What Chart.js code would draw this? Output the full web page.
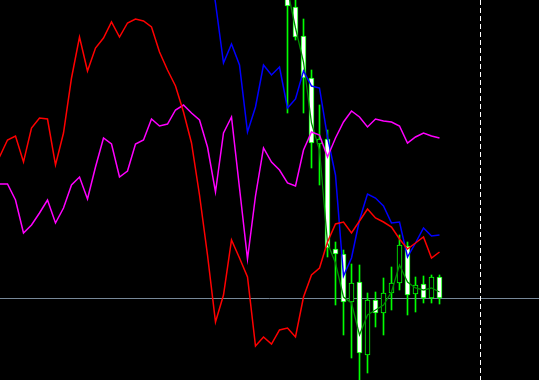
<!DOCTYPE html>
<html lang="en">
<head>
    <meta charset="UTF-8">
    <title>Price chart with indicators</title>
    <script src="https://cdn.jsdelivr.net/npm/chart.js"></script>
    <style>
        html, body {
            margin: 0;
            padding: 0;
            background: #000;
        }

        .chart-box {
            width: 539px;
            height: 380px;
            position: relative;
        }
    </style>
</head>
<body>
    <div class="chart-box">
        <canvas id="priceChart"></canvas>
    </div>

    <script>
        // Indicator lines, one value per bar (bar 0 = left edge)
        const redLine = [223, 240, 244, 218, 252, 262, 261, 215, 247, 302, 343, 309, 332, 342, 358, 343,
            357, 361, 359, 353, 328, 310, 294, 268, 237, 185, 125, 58, 85, 140, 122, 103,
            34, 43, 36, 50, 52, 43, 83, 105, 112, 138, 156, 158, 147, 159, 171, 162,
            158, 153, 141, 131, 137, 143, 122, 128];

        const magentaLine = [196, 196, 180, 147, 155, 167, 180, 157, 172, 195, 203, 181, 213, 242, 236, 203,
            209, 236, 240, 261, 254, 256, 270, 275, 267, 260, 233, 188, 247, 263, 192, 121,
            184, 232, 218, 210, 197, 194, 230, 248, 245, 223, 242, 258, 269, 263, 253, 261,
            259, 258, 254, 237, 243, 247, 244, 242];

        // blue line starts at bar 26 (older values are off the top)
        const blueStart = 26;
        const blueLine = [430, 377, 317, 336, 315, 248, 273, 315, 305, 313, 272, 281, 309, 294, 292,
            243, 205, 104, 122, 160, 186, 182, 174, 157, 158, 123, 137, 152, 144, 145];

        // dark green average of the candles
        const maStart = 35;
        const maLine = [420, 390, 352, 318, 257, 230, 137, 117, 83, 77, 45, 65, 70, 75, 88, 115,
            98, 92, 90, 92, 88];

        // candles, from bar 36
        const candleStart = 36;
        const opens  = [390, 373, 344, 302, 236, 241, 131, 126, 78, 98, 25, 80, 67, 87, 97, 134, 86, 96, 82, 103];
        const highs  = [400, 382, 361, 310, 275, 250, 138, 130, 116, 115, 87, 88, 102, 113, 145, 138, 103, 104, 105, 105];
        const lows   = [267, 340, 267, 212, 195, 123, 75, 45, 22, -2, 7, 53, 45, 70, 90, 65, 68, 77, 77, 76];
        const closes = [374, 343, 302, 237, 241, 132, 126, 78, 97, 27, 80, 67, 87, 97, 135, 85, 95, 82, 103, 82];

        const shiftIndex = 60.125;   // chart shift separator
        const bidLevel = closes[closes.length - 1];

        const toPoints = (arr, start) => arr.map((v, i) => ({ x: start + i, y: v }));

        const wickData = lows.map((l, i) => ({ x: candleStart + i, y: [l, highs[i]] }));
        const bodyData = opens.map((o, i) => ({ x: candleStart + i, y: [o, closes[i]] }));
        const bodyFill = opens.map((o, i) => closes[i] < o ? '#ffffff' : '#000000');

        // bid line + shift separator
        const guideLines = {
            id: 'guideLines',
            beforeDatasetsDraw(chart) {
                const { ctx, chartArea, scales } = chart;
                const y = Math.round(scales.y.getPixelForValue(bidLevel)) + 0.5;
                const x = Math.floor(scales.x.getPixelForValue(shiftIndex)) + 0.5;
                ctx.save();
                ctx.lineWidth = 1;
                ctx.strokeStyle = '#778899';
                ctx.beginPath();
                ctx.moveTo(chartArea.left, y);
                ctx.lineTo(chartArea.right, y);
                ctx.stroke();
                ctx.strokeStyle = '#ffffff';
                ctx.setLineDash([5, 3]);
                ctx.beginPath();
                ctx.moveTo(x, chartArea.top);
                ctx.lineTo(x, chartArea.bottom);
                ctx.stroke();
                ctx.restore();
            }
        };

        const lineSet = (label, data, color, width, order) => ({
            type: 'line',
            label: label,
            data: data,
            borderColor: color,
            borderWidth: width,
            pointRadius: 0,
            tension: 0,
            order: order
        });

        new Chart(document.getElementById('priceChart'), {
            data: {
                datasets: [
                    lineSet('Red', toPoints(redLine, 0), '#ff0000', 1.5, 0),
                    lineSet('Magenta', toPoints(magentaLine, 0), '#ff00ff', 1.5, 0),
                    lineSet('Blue', toPoints(blueLine, blueStart), '#0000ff', 1.5, 0),
                    lineSet('Average', toPoints(maLine, maStart), '#008c00', 1.3, 1),
                    {
                        type: 'bar',
                        label: 'Body',
                        data: bodyData,
                        backgroundColor: bodyFill,
                        borderColor: '#00ff00',
                        borderWidth: 1,
                        borderSkipped: false,
                        barThickness: 5,
                        grouped: false,
                        order: 2
                    },
                    {
                        type: 'bar',
                        label: 'Wick',
                        data: wickData,
                        backgroundColor: '#00ff00',
                        borderWidth: 0,
                        barThickness: 1,
                        grouped: false,
                        order: 3
                    }
                ]
            },
            options: {
                responsive: true,
                maintainAspectRatio: false,
                animation: false,
                layout: { padding: 0 },
                plugins: {
                    legend: { display: false },
                    tooltip: { enabled: false }
                },
                scales: {
                    x: { type: 'linear', min: 0.0625, max: 0.0625 + 539 / 8, offset: false, display: false },
                    y: { min: 0, max: 380, display: false }
                }
            },
            plugins: [guideLines]
        });
    </script>
</body>
</html>
